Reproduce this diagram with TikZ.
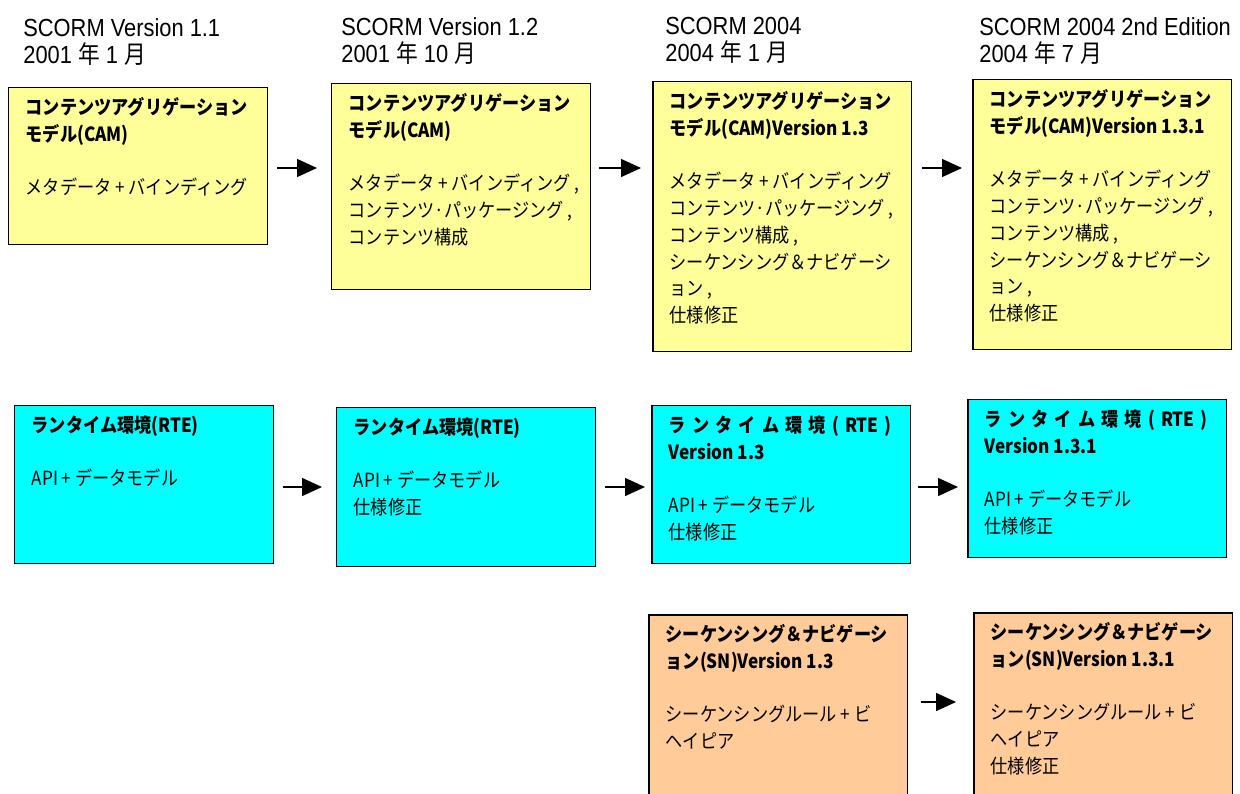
\documentclass[tikz,border=0pt]{standalone}
\usepackage{fontspec}
\setmainfont{Liberation Sans}[FakeStretch=0.885]
\newfontfamily\jp{Noto Sans CJK JP}[FakeStretch=0.88]
\usetikzlibrary{arrows.meta,calc}

\definecolor{camyellow}{RGB}{255,255,153}
\definecolor{rtecyan}{RGB}{0,255,255}
\definecolor{snorange}{RGB}{255,204,153}

% box text: fixed height, top aligned
\newcommand{\boxtxt}[2]{\parbox[t][#1][t]{4.5cm}{\raggedright #2}}

\tikzset{
  verbox/.style={draw=black, line width=0.85pt, anchor=north west,
    inner xsep=0.34cm, inner ysep=0.2cm,
    font=\jp\fontsize{11.1}{15.2}\selectfont},
  cam/.style={verbox, fill=camyellow},
  rte/.style={verbox, fill=rtecyan},
  sn/.style={verbox, fill=snorange},
  release/.style={anchor=north west, align=left, inner sep=0pt,
    font=\fontsize{14.06}{15.4}\selectfont},
  flow/.style={line width=0.8pt, -{Triangle[length=0.4cm,width=0.36cm]}}
}

\begin{document}
\begin{tikzpicture}[x=0.02cm, y=-0.02cm]
\clip (0,0) rectangle (1240,794);

% release headings
\node[release] (rel1) at (23,18) {SCORM Version 1.1\\2001 {\jp 年} 1 {\jp 月}};
\node[release] (rel2) at (341,17) {SCORM Version 1.2\\2001 {\jp 年} 10 {\jp 月}};
\node[release] (rel3) at (665,17) {SCORM 2004\\2004 {\jp 年} 1 {\jp 月}};
\node[release] (rel4) at (979,17) {SCORM 2004 2nd Edition\\2004 {\jp 年} 7 {\jp 月}};

% CAM
\node[cam] (cam1) at (8,87) {\boxtxt{2.74cm}{{\bfseries コンテンツアグリゲーション\\モデル(CAM)}\\[\baselineskip]
  メタデータ + バインディング}};
\node[cam] (cam2) at (331,83) {\boxtxt{3.72cm}{{\bfseries コンテンツアグリゲーション\\モデル(CAM)}\\[\baselineskip]
  \mbox{メタデータ + バインディング ,}\\コンテンツ·パッケージング~,\\コンテンツ構成}};
\node[cam] (cam3) at (652,81) {\boxtxt{5.0cm}{{\bfseries コンテンツアグリゲーション\\モデル(CAM)Version 1.3}\\[\baselineskip]
  メタデータ + バインディング\\コンテンツ·パッケージング~,\\コンテンツ構成~,\\シーケンシング＆ナビゲーシ\\ョン~,\\仕様修正}};
\node[cam] (cam4) at (972,79) {\boxtxt{5.0cm}{{\bfseries コンテンツアグリゲーション\\モデル(CAM)Version 1.3.1}\\[\baselineskip]
  メタデータ + バインディング\\コンテンツ·パッケージング~,\\コンテンツ構成~,\\シーケンシング＆ナビゲーシ\\ョン~,\\仕様修正}};

% RTE
\node[rte] (rte1) at (14,405) {\boxtxt{2.76cm}{{\bfseries ランタイム環境(RTE)}\\[\baselineskip]
  API + データモデル}};
\node[rte] (rte2) at (336,407) {\boxtxt{2.78cm}{{\bfseries ランタイム環境(RTE)}\\[\baselineskip]
  API + データモデル\\仕様修正}};
\node[rte] (rte3) at (651,405) {\boxtxt{2.76cm}{{\bfseries \makebox[4.46cm][s]{ラ ン タ イ ム 環 境 ( RTE )}\\Version 1.3}\\[\baselineskip]
  API + データモデル\\仕様修正}};
\node[rte] (rte4) at (967,399) {\boxtxt{2.76cm}{{\bfseries \makebox[4.46cm][s]{ラ ン タ イ ム 環 境 ( RTE )}\\Version 1.3.1}\\[\baselineskip]
  API + データモデル\\仕様修正}};

% SN
\node[sn] (sn3) at (648,614) {\boxtxt{3.6cm}{{\bfseries シーケンシング＆ナビゲーシ\\ョン(SN)Version 1.3}\\[\baselineskip]
  シーケンシングルール + ビ\\ヘイピア}};
\node[sn] (sn4) at (973,612) {\boxtxt{3.6cm}{{\bfseries シーケンシング＆ナビゲーシ\\ョン(SN)Version 1.3.1}\\[\baselineskip]
  シーケンシングルール + ビ\\ヘイピア\\仕様修正}};

% arrows
\coordinate (camrow) at (0,168);
\coordinate (rterow) at (0,487);
\coordinate (snrow) at (0,702);
\draw[flow] ([xshift=0.18cm]cam1.east |- camrow) -- ([xshift=-0.28cm]cam2.west |- camrow);
\draw[flow] ([xshift=0.16cm]cam2.east |- camrow) -- ([xshift=-0.22cm]cam3.west |- camrow);
\draw[flow] ([xshift=0.2cm]cam3.east |- camrow) -- ([xshift=-0.2cm]cam4.west |- camrow);
\draw[flow] ([xshift=0.18cm]rte1.east |- rterow) -- ([xshift=-0.28cm]rte2.west |- rterow);
\draw[flow] ([xshift=0.18cm]rte2.east |- rterow) -- ([xshift=-0.12cm]rte3.west |- rterow);
\draw[flow] ([xshift=0.14cm]rte3.east |- rterow) -- ([xshift=-0.18cm]rte4.west |- rterow);
\draw[flow] ([xshift=0.26cm]sn3.east |- snrow) -- ([xshift=-0.34cm]sn4.west |- snrow);
\end{tikzpicture}
\end{document}
